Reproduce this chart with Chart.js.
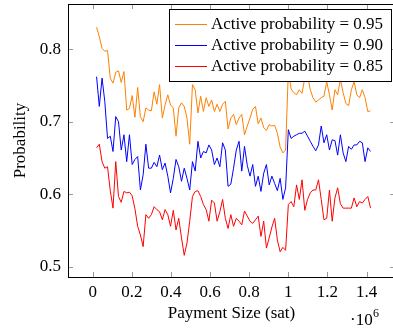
<!DOCTYPE html>
<html>
<head>
<meta charset="utf-8">
<script src="https://cdn.jsdelivr.net/npm/chart.js@4"></script>
<style>
  html, body { margin: 0; padding: 0; background: #fff; overflow: hidden; }
  #wrap { width: 395px; height: 331px; }
</style>
</head>
<body>
<div id="wrap"><canvas id="chart"></canvas></div>
<script>
// payment sizes in units of 10^6 sat, one sample every 0.014
const sizeStart = 0.02;
const sizeStep = 0.014;

const prob95 = [
  0.830, 0.817, 0.801, 0.797, 0.798, 0.760, 0.753, 0.768, 0.770, 0.754,
  0.769, 0.716, 0.718, 0.736, 0.706, 0.747, 0.707, 0.700, 0.719, 0.716,
  0.715, 0.741, 0.724, 0.751, 0.705, 0.723, 0.737, 0.723, 0.719, 0.680,
  0.719, 0.726, 0.721, 0.705, 0.669, 0.751, 0.744, 0.712, 0.735, 0.714,
  0.733, 0.721, 0.730, 0.714, 0.724, 0.714, 0.724, 0.728, 0.690, 0.705,
  0.710, 0.696, 0.705, 0.710, 0.682, 0.694, 0.705, 0.717, 0.721, 0.697,
  0.705, 0.692, 0.688, 0.696, 0.694, 0.695, 0.684, 0.665, 0.657, 0.661,
  0.770, 0.745, 0.740, 0.737, 0.744, 0.739, 0.760, 0.765, 0.744, 0.733,
  0.727, 0.730, 0.733, 0.735, 0.755, 0.737, 0.716, 0.744, 0.737, 0.758,
  0.740, 0.725, 0.722, 0.744, 0.755, 0.737, 0.733, 0.744, 0.733, 0.714,
  0.715
];

const prob90 = [
  0.762, 0.721, 0.760, 0.728, 0.677, 0.680, 0.659, 0.707, 0.700, 0.661,
  0.682, 0.645, 0.682, 0.641, 0.648, 0.652, 0.606, 0.627, 0.669, 0.636,
  0.636, 0.644, 0.638, 0.654, 0.634, 0.643, 0.625, 0.602, 0.622, 0.648,
  0.638, 0.618, 0.636, 0.622, 0.606, 0.645, 0.632, 0.673, 0.650, 0.659,
  0.657, 0.668, 0.661, 0.641, 0.650, 0.638, 0.671, 0.661, 0.611, 0.614,
  0.636, 0.661, 0.673, 0.632, 0.666, 0.640, 0.625, 0.641, 0.611, 0.625,
  0.604, 0.629, 0.641, 0.613, 0.625, 0.615, 0.605, 0.622, 0.593, 0.609,
  0.689, 0.677, 0.680, 0.682, 0.684, 0.684, 0.687, 0.680, 0.673, 0.666,
  0.660, 0.668, 0.694, 0.671, 0.682, 0.661, 0.675, 0.674, 0.654, 0.682,
  0.657, 0.645, 0.666, 0.662, 0.668, 0.668, 0.673, 0.671, 0.645, 0.664,
  0.659
];

const prob85 = [
  0.664, 0.669, 0.645, 0.636, 0.638, 0.605, 0.581, 0.645, 0.597, 0.589,
  0.604, 0.602, 0.603, 0.598, 0.580, 0.556, 0.544, 0.528, 0.572, 0.567,
  0.572, 0.583, 0.579, 0.576, 0.565, 0.579, 0.572, 0.556, 0.578, 0.551,
  0.567, 0.540, 0.516, 0.533, 0.563, 0.597, 0.604, 0.605, 0.597, 0.586,
  0.579, 0.563, 0.592, 0.588, 0.563, 0.576, 0.593, 0.567, 0.553, 0.572,
  0.556, 0.567, 0.563, 0.558, 0.577, 0.570, 0.563, 0.560, 0.565, 0.570,
  0.542, 0.563, 0.526, 0.540, 0.555, 0.567, 0.537, 0.521, 0.527, 0.523,
  0.586, 0.590, 0.583, 0.613, 0.593, 0.620, 0.578, 0.593, 0.602, 0.606,
  0.606, 0.620, 0.593, 0.565, 0.567, 0.606, 0.563, 0.595, 0.609, 0.587,
  0.581, 0.581, 0.581, 0.581, 0.595, 0.583, 0.590, 0.588, 0.593, 0.597,
  0.581
];

const seriesLabels = [
  "Active probability = 0.95",
  "Active probability = 0.90",
  "Active probability = 0.85",
];
const seriesColors = ["rgb(255,128,0)", "rgb(0,0,255)", "rgb(255,0,0)"];

const xTicks = [0, 0.2, 0.4, 0.6, 0.8, 1, 1.2, 1.4];
const yTicks = [0.5, 0.6, 0.7, 0.8];

const sizes = prob95.map((_, i) => +(sizeStart + i * sizeStep).toFixed(3));

const serif = "'Liberation Serif', 'Times New Roman', serif";
Chart.defaults.font.family = serif;
Chart.defaults.font.size = 17;
Chart.defaults.color = "#000";

// pgfplots-like frame: inward ticks on all sides, boxed legend, exponent label
const framePlugin = {
  id: "frame",
  afterDatasetsDraw(chart) {
    const { ctx, chartArea: a, scales } = chart;
    ctx.save();

    ctx.strokeStyle = "#9a9a9a";
    ctx.lineWidth = 1;
    ctx.beginPath();
    xTicks.forEach((v) => {
      const px = Math.round(scales.x.getPixelForValue(v)) + 0.5;
      ctx.moveTo(px, a.bottom);
      ctx.lineTo(px, a.bottom - 5);
      ctx.moveTo(px, a.top);
      ctx.lineTo(px, a.top + 5);
    });
    yTicks.forEach((v) => {
      const py = Math.round(scales.y.getPixelForValue(v)) + 0.5;
      ctx.moveTo(a.left, py);
      ctx.lineTo(a.left + 5, py);
      ctx.moveTo(a.right, py);
      ctx.lineTo(a.right - 5, py);
    });
    ctx.stroke();

    ctx.strokeStyle = "#000";
    ctx.strokeRect(a.left + 0.5, a.top + 0.5, a.right - a.left - 1, a.bottom - a.top);

    // legend box in the upper right corner
    const lx = a.right - 226, ly = a.top + 5, lw = 222, lh = 72;
    ctx.fillStyle = "#fff";
    ctx.fillRect(lx, ly, lw, lh);
    ctx.strokeStyle = "#000";
    ctx.strokeRect(lx + 0.5, ly + 0.5, lw, lh);
    ctx.font = "17px " + serif;
    ctx.textBaseline = "middle";
    ctx.textAlign = "left";
    chart.data.datasets.forEach((ds, i) => {
      const cy = ly + 15 + i * 21;
      ctx.strokeStyle = ds.borderColor;
      ctx.beginPath();
      ctx.moveTo(lx + 6, cy + 0.5);
      ctx.lineTo(lx + 38, cy + 0.5);
      ctx.stroke();
      ctx.fillStyle = "#000";
      ctx.fillText(ds.label, lx + 42, cy + 1);
    });

    // axis multiplier
    ctx.textBaseline = "alphabetic";
    ctx.font = "17px " + serif;
    ctx.fillText("\u00b710", 350, 325);
    ctx.font = "12px " + serif;
    ctx.fillText("6", 373, 317);

    ctx.restore();
  },
};

new Chart(document.getElementById("chart"), {
  type: "line",
  data: {
    datasets: [prob95, prob90, prob85].map((vals, k) => ({
      label: seriesLabels[k],
      data: vals.map((v, i) => ({ x: sizes[i], y: v })),
      borderColor: seriesColors[k],
      borderWidth: 1,
      pointRadius: 0,
      tension: 0,
      fill: false,
    })),
  },
  options: {
    responsive: true,
    maintainAspectRatio: false,
    animation: false,
    layout: { padding: { top: 4, right: 0, bottom: 0, left: 0 } },
    plugins: { legend: { display: false }, tooltip: { enabled: false } },
    scales: {
      x: {
        type: "linear",
        min: -0.126,
        max: 1.545,
        grid: { display: false, drawTicks: false },
        border: { display: false },
        afterBuildTicks: (s) => { s.ticks = xTicks.map((v) => ({ value: v })); },
        afterFit: (s) => { s.height = 54; s.paddingLeft = 0; s.paddingRight = 0; },
        ticks: { padding: 5, maxRotation: 0, autoSkip: false, callback: (v) => String(v) },
        title: { display: true, text: "Payment Size (sat)", padding: { top: 0, bottom: 7 } },
      },
      y: {
        min: 0.4862,
        max: 0.862,
        grid: { display: false, drawTicks: false },
        border: { display: false },
        afterBuildTicks: (s) => { s.ticks = yTicks.map((v) => ({ value: v })); },
        afterFit: (s) => { s.width = 68; s.paddingTop = 0; s.paddingBottom = 0; },
        ticks: { padding: 7, autoSkip: false, callback: (v) => v.toFixed(1) },
        title: { display: true, text: "Probability", padding: { top: 10, bottom: 0 } },
      },
    },
  },
  plugins: [framePlugin],
});
</script>
</body>
</html>
